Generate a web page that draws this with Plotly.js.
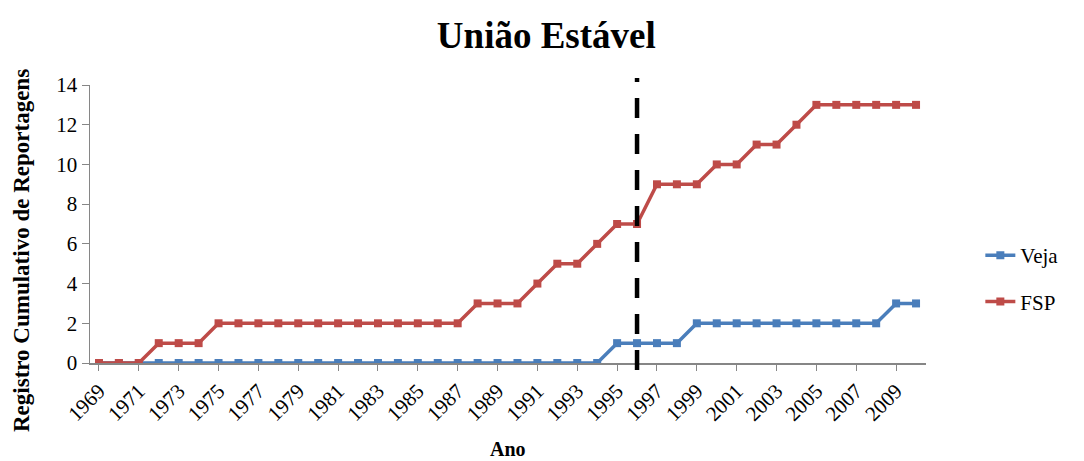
<!DOCTYPE html>
<html>
<head>
<meta charset="utf-8">
<script src="https://cdn.plot.ly/plotly-3.0.1.min.js"></script>
<style>html,body{margin:0;padding:0;background:#fff;}#chart{width:1084px;height:461px;}</style>
</head>
<body>
<div id="chart"></div>
<script>
const years = [];
for (let y = 1969; y <= 2010; y++) years.push(y);
const veja = [0,0,0,0,0,0,0,0,0,0,0,0,0,0,0,0,0,0,0,0,0,0,0,0,0,0,1,1,1,1,2,2,2,2,2,2,2,2,2,2,3,3];
const fsp  = [0,0,0,1,1,1,2,2,2,2,2,2,2,2,2,2,2,2,2,3,3,3,4,5,5,6,7,7,9,9,9,10,10,11,11,12,13,13,13,13,13,13];
const tickYears = [1969,1971,1973,1975,1977,1979,1981,1983,1985,1987,1989,1991,1993,1995,1997,1999,2001,2003,2005,2007,2009];
const markerYear = 1996;

const font = 'Liberation Serif, serif';
const traces = [
  {x: years, y: veja, name: 'Veja', type: 'scatter', mode: 'lines+markers',
   line: {color: '#4A7EBB', width: 3.5}, marker: {symbol: 'square', size: 8, color: '#4A7EBB'}, legendgroup: 'a'},
  {x: years, y: fsp, name: 'FSP', type: 'scatter', mode: 'lines+markers',
   line: {color: '#BE4B48', width: 3.5}, marker: {symbol: 'square', size: 8, color: '#BE4B48'}, legendgroup: 'b'}
];
const layout = {
  width: 1084, height: 461,
  margin: {l: 90, r: 158, t: 85, b: 98},
  paper_bgcolor: '#fff', plot_bgcolor: '#fff',
  font: {family: font, size: 21, color: '#000'},
  title: {text: '<b>União Estável</b>', font: {family: font, size: 37, color: '#000'}, x: 0.504, xanchor: 'center', y: 0.925, yanchor: 'middle'},
  xaxis: {
    range: [1968.55, 2010.5], tickmode: 'array', tickvals: tickYears, ticktext: tickYears.map(String),
    tickangle: -45, showgrid: false, zeroline: false, showline: true, linecolor: '#868686', linewidth: 1.5,
    ticks: 'outside', ticklen: 6, tickcolor: '#868686',
    tickfont: {family: font, size: 21, color: '#000'}
  },
  yaxis: {
    range: [0, 14], dtick: 2, showgrid: false, zeroline: false, showline: true, linecolor: '#868686', linewidth: 1.5,
    ticks: 'outside', ticklen: 7, tickcolor: '#868686',
    tickfont: {family: font, size: 21, color: '#000'}
  },
  annotations: [
    {text: '<b>Registro Cumulativo de Reportagens</b>', xref: 'paper', yref: 'paper',
     x: -0.0813, y: 0.403, xanchor: 'center', yanchor: 'middle', textangle: -90, showarrow: false,
     font: {family: font, size: 23, color: '#000'}},
    {text: '<b>Ano</b>', xref: 'paper', yref: 'paper',
     x: 0.5, y: -0.31, xanchor: 'center', yanchor: 'middle', showarrow: false,
     font: {family: font, size: 20, color: '#000'}}
  ],
  shapes: [{type: 'line', xref: 'x', yref: 'paper', x0: markerYear, x1: markerYear, y0: -0.025, y1: 1.025,
            line: {color: '#000', width: 4.5, dash: '20px,16px'}}],
  legend: {x: 1.065, y: 0.46, xanchor: 'left', yanchor: 'top', traceorder: 'grouped', tracegroupgap: 16,
           font: {family: font, size: 21, color: '#000'}, bgcolor: 'rgba(0,0,0,0)'},
  showlegend: true
};
function fixFonts() {
  document.querySelectorAll('.xtick text, .ytick text, .legendtext').forEach(t => {
    t.style.setProperty('font-family', '"Liberation Serif", serif', 'important');
    t.style.setProperty('font-size', '21px', 'important');
  });
}
const gd = document.getElementById('chart');
Plotly.newPlot(gd, traces, layout, {displayModeBar: false, staticPlot: true}).then(() => {
  fixFonts();
  requestAnimationFrame(fixFonts);
});
</script>
</body>
</html>
